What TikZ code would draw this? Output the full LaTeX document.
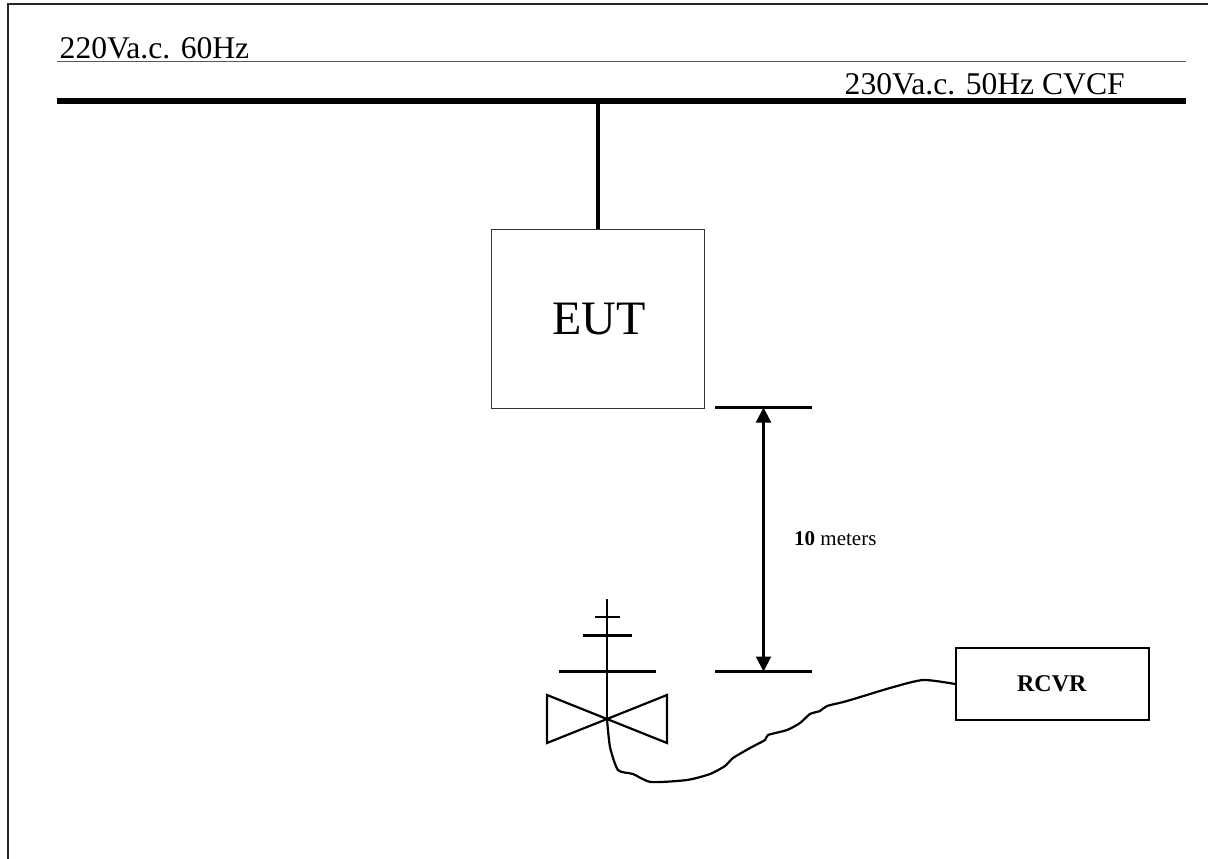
\documentclass[tikz,border=0pt]{standalone}
\usepackage{fontspec}
\setmainfont{Liberation Serif}
\usetikzlibrary{arrows.meta}
\tikzset{
  busline/.style={line width=6pt},
  thinbus/.style={line width=1pt,color=black!65},
  antbar/.style={line width=2.2pt},
  boxnode/.style={draw,inner sep=0pt,anchor=north west},
  txtnode/.style={inner sep=0pt,anchor=base west},
}
\begin{document}
\begin{tikzpicture}[x=1pt,y=-1pt]
  \useasboundingbox (0,0) rectangle (1208,859);
  % outer frame, cut at the right and bottom
  \draw[line width=2pt,color=black!85] (7.5,859) -- (7.5,4.5) -- (1208,4.5);
  % supply lines
  \coordinate (busL) at (57,100.5);
  \coordinate (busR) at (1186,100.5);
  \coordinate (busT) at (598,100.5);
  \coordinate (thinL) at (57,61.5);
  \coordinate (thinR) at (1186,61.5);
  \draw[thinbus] (thinL) -- (thinR);
  \draw[busline] (busL) -- (busR);
  \node[txtnode,font=\fontsize{31.6}{36}\selectfont] (lblA) at (59.5,58.5) {220Va.c. 60Hz};
  \node[txtnode,font=\fontsize{31.6}{36}\selectfont] (lblB) at (844.5,95) {230Va.c. 50Hz CVCF};
  % EUT
  \node[boxnode,line width=1pt,color=black!80,text=black,minimum width=212.5pt,minimum height=179pt,font=\fontsize{48}{52}\selectfont] (eut) at (491,229) {\hspace*{2pt}EUT};
  \draw[line width=4pt] (busT) -- (busT |- eut.north);
  % distance
  \coordinate (tickAL) at (715,407.5);
  \coordinate (tickAR) at (812,407.5);
  \coordinate (tickA) at (763.5,407.5);
  \coordinate (tickBL) at (715,671.5);
  \coordinate (tickBR) at (812,671.5);
  \coordinate (tickB) at (763.5,671.5);
  \draw[antbar] (tickAL) -- (tickAR);
  \draw[antbar] (tickBL) -- (tickBR);
  \draw[antbar,{Triangle[length=15pt,width=15pt]}-{Triangle[length=15pt,width=15pt]}] (tickA) -- (tickB);
  \node[txtnode,font=\fontsize{21}{24}\selectfont] (dist) at (794,545) {\textbf{10} meters};
  % antenna
  \coordinate (antT) at (607,599);
  \coordinate (ant) at (607,719);
  \draw[antbar] (antT) -- (ant);
  \draw[antbar] (594.5,617) -- (620,617);
  \draw[antbar] (582.5,635.5) -- (632,635.5);
  \draw[antbar] (558.5,671.5) -- (656,671.5);
  \draw[antbar,line join=miter] (ant) -- (547,695) -- (547,743) -- (667,695) -- (667,743) -- cycle;
  % receiver
  \node[boxnode,line width=2pt,minimum width=192.5pt,minimum height=72pt,font=\fontsize{24}{26}\selectfont\bfseries] (rcvr) at (955,647) {RCVR\hspace*{1pt}};
  \draw[antbar] plot[smooth,tension=0.4] coordinates {(ant) (610,747) (618,770) (633,774) (651,782) (687,780) (710,774) (725,766) (733,758) (750,748) (765,740) (768,735) (787,730) (800,723) (810,714) (820,711) (827,706) (847,701) (890,688) (923,680) (rcvr.west)};
\end{tikzpicture}
\end{document}
